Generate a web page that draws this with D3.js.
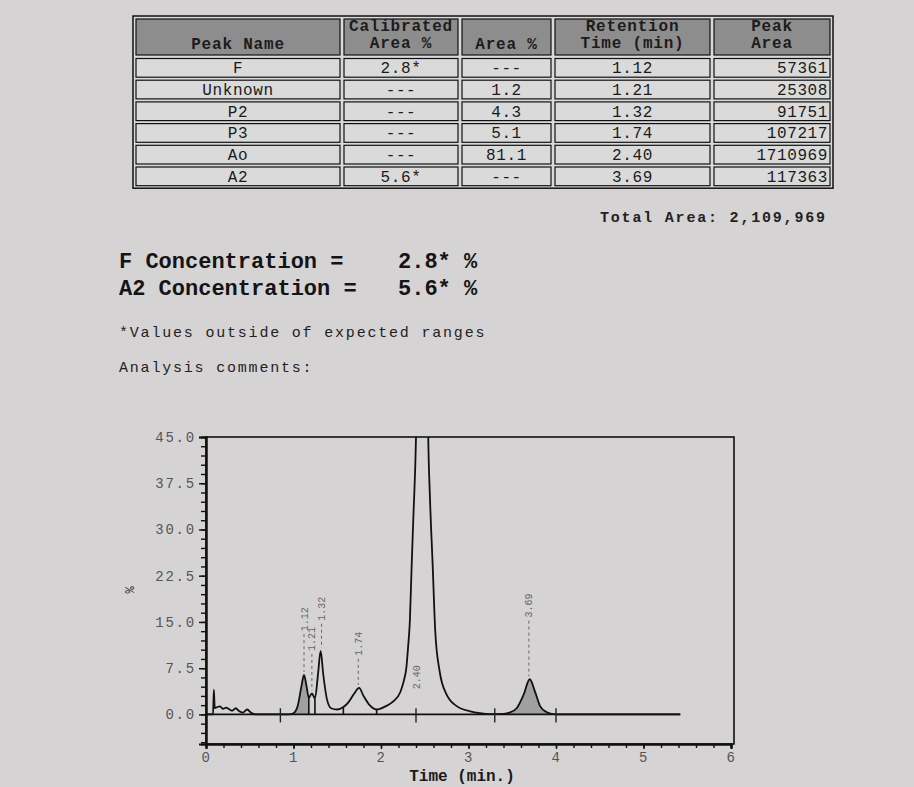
<!DOCTYPE html>
<html>
<head>
<meta charset="utf-8">
<script src="https://cdn.jsdelivr.net/npm/d3@7"></script>
<style>
  body { margin: 0; background: #d6d3d5; }
  svg { display: block; }
  text { font-family: "Liberation Mono", "DejaVu Sans Mono", monospace; }
</style>
</head>
<body>
<div id="report"></div>
<script>
// table values
const headers = [["Peak Name"], ["Calibrated", "Area %"], ["Area %"], ["Retention", "Time (min)"], ["Peak", "Area"]];
const peakNames = ["F", "Unknown", "P2", "P3", "Ao", "A2"];
const calibratedArea = ["2.8*", "---", "---", "---", "---", "5.6*"];
const areaPct = ["---", "1.2", "4.3", "5.1", "81.1", "---"];
const retention = ["1.12", "1.21", "1.32", "1.74", "2.40", "3.69"];
const peakArea = ["57361", "25308", "91751", "107217", "1710969", "117363"];
const totalArea = "2,109,969";

// chromatogram trace
const timeMin = [0.00, 0.08, 0.09, 0.10, 0.13, 0.16, 0.195, 0.23, 0.27, 0.30, 0.34, 0.38, 0.42, 0.47, 0.52, 0.58,
  0.95, 1.00, 1.05, 1.09, 1.12, 1.15, 1.175, 1.21, 1.245, 1.28, 1.31, 1.34, 1.38, 1.43, 1.50, 1.57,
  1.63, 1.69, 1.75, 1.80, 1.87, 1.95, 2.05, 2.14, 2.22, 2.26, 2.29, 2.31, 2.33, 2.35, 2.37, 2.40,
  2.44, 2.47, 2.51, 2.54, 2.56, 2.59, 2.62, 2.67, 2.75, 2.87, 3.02, 3.13, 3.25, 3.40, 3.47, 3.55,
  3.63, 3.70, 3.76, 3.82, 3.89, 3.95, 4.05, 5.42];
const signalPct = [0.0, 0.0, 4.0, 1.0, 1.2, 1.3, 0.9, 1.1, 0.8, 0.6, 1.0, 0.5, 0.3, 0.8, 0.2, 0.0,
  0.0, 0.2, 1.5, 4.5, 6.4, 4.5, 2.7, 3.4, 2.6, 6.5, 10.3, 6.5, 2.6, 1.0, 0.8, 1.2,
  2.0, 3.3, 4.3, 3.0, 1.5, 0.8, 1.3, 2.1, 3.6, 5.4, 7.6, 11.0, 15.2, 24.0, 32.0, 45.0,
  90.0, 105.0, 90.0, 45.0, 35.0, 24.4, 13.5, 7.0, 3.2, 1.3, 0.5, 0.2, 0.05, 0.1, 0.3, 1.0,
  3.2, 5.7, 3.7, 1.3, 0.4, 0.1, 0.0, 0.0];

// peak labels: retention time, apex height, height of label foot
const labelTimes = [1.12, 1.21, 1.32, 1.74, 2.40, 3.69];
const labelApex = [6.4, 3.4, 10.3, 4.3, null, 5.7];
const labelFoot = [13.5, 10.3, 15.2, 9.5, 4.1, 15.7];

// integration marks
const dropTimes = [1.175, 1.245, 1.57, 1.95];
const dropVals = [2.7, 2.6, 1.2, 0.8];
const markerTimes = [0.85, 2.40, 3.30, 4.00];
const shadedRanges = [[1.00, 1.175], [3.47, 3.95]];

const yMajor = [0, 7.5, 15, 22.5, 30, 37.5, 45];
const xMajor = [0, 1, 2, 3, 4, 5, 6];

const W = 914, H = 787;
const svg = d3.select("#report").append("svg")
  .attr("width", W).attr("height", H);

// ---- table ----
const colEdges = [134, 342, 460, 553, 712, 832];
const tableTop = 17, headH = 40, rowH = 21.7;
const table = svg.append("g");

table.append("rect")
  .attr("x", colEdges[0] - 1).attr("y", tableTop - 1)
  .attr("width", colEdges[5] - colEdges[0] + 2)
  .attr("height", headH + rowH * peakNames.length + 2)
  .attr("fill", "#d9d9d9").attr("stroke", "#111").attr("stroke-width", 1.5);

for (let c = 0; c < 5; c++) {
  const x0 = colEdges[c], x1 = colEdges[c + 1];
  table.append("rect")
    .attr("x", x0 + 2).attr("y", tableTop + 2)
    .attr("width", x1 - x0 - 4).attr("height", headH - 4)
    .attr("fill", "#8d8d8d").attr("stroke", "#111").attr("stroke-width", 1.2);
  const lines = headers[c];
  lines.forEach((t, i) => {
    table.append("text")
      .attr("x", (x0 + x1) / 2)
      .attr("y", tableTop + (lines.length === 1 ? 32 : 14 + i * 17))
      .attr("text-anchor", "middle")
      .attr("font-size", 16).attr("font-weight", "bold")
      .attr("letter-spacing", 0.8)
      .attr("fill", "#1c1c1c")
      .text(t);
  });
  for (let r = 0; r < peakNames.length; r++) {
    table.append("rect")
      .attr("x", x0 + 2).attr("y", tableTop + headH + r * rowH + 1.5)
      .attr("width", x1 - x0 - 4).attr("height", rowH - 3)
      .attr("fill", "#dadada").attr("stroke", "#111").attr("stroke-width", 1.2);
  }
}

const cols = [peakNames, calibratedArea, areaPct, retention, peakArea];
cols.forEach((vals, c) => {
  const x0 = colEdges[c], x1 = colEdges[c + 1];
  vals.forEach((v, r) => {
    table.append("text")
      .attr("x", c === 4 ? x1 - 4 : (x0 + x1) / 2)
      .attr("y", tableTop + headH + r * rowH + rowH / 2 + 5.5)
      .attr("text-anchor", c === 4 ? "end" : "middle")
      .attr("font-size", 16).attr("letter-spacing", 0.6).attr("fill", "#1a1a1a")
      .text(v);
  });
});

// ---- summary text ----
const note = { size: 15, spacing: 1.8, fill: "#222" };
svg.append("text").attr("x", 600).attr("y", 222)
  .attr("font-size", note.size).attr("letter-spacing", note.spacing).attr("fill", note.fill)
  .attr("font-weight", "bold")
  .text("Total Area:  " + totalArea);

svg.append("text").attr("x", 119).attr("y", 268)
  .attr("font-size", 22).attr("font-weight", "bold").attr("fill", "#141414")
  .text("F Concentration =");
svg.append("text").attr("x", 398).attr("y", 268)
  .attr("font-size", 22).attr("font-weight", "bold").attr("fill", "#141414")
  .text(calibratedArea[0] + " %");
svg.append("text").attr("x", 119).attr("y", 295)
  .attr("font-size", 22).attr("font-weight", "bold").attr("fill", "#141414")
  .text("A2 Concentration =");
svg.append("text").attr("x", 398).attr("y", 295)
  .attr("font-size", 22).attr("font-weight", "bold").attr("fill", "#141414")
  .text(calibratedArea[5] + " %");

svg.append("text").attr("x", 119).attr("y", 337)
  .attr("font-size", note.size).attr("letter-spacing", note.spacing).attr("fill", note.fill)
  .text("*Values outside of expected ranges");
svg.append("text").attr("x", 119).attr("y", 372)
  .attr("font-size", note.size).attr("letter-spacing", note.spacing).attr("fill", note.fill)
  .text("Analysis comments:");

// ---- chromatogram ----
const x = d3.scaleLinear().domain([0, 6]).range([206, 731]);
const y = d3.scaleLinear().domain([-4.8, 45]).range([744, 437]);
const trace = timeMin.map((t, i) => ({ t: t, v: signalPct[i] }));

svg.append("clipPath").attr("id", "plotClip")
  .append("rect").attr("x", 206).attr("y", 437).attr("width", 528).attr("height", 307);

const plot = svg.append("g").attr("clip-path", "url(#plotClip)");

// shaded integrated peaks
shadedRanges.forEach(rg => {
  plot.append("path")
    .datum(trace.filter(d => d.t >= rg[0] && d.t <= rg[1]))
    .attr("fill", "#8f8f8f").attr("fill-opacity", 0.75)
    .attr("d", d3.area().curve(d3.curveMonotoneX)
      .x(d => x(d.t)).y0(y(0)).y1(d => y(d.v)));
});

// baseline
plot.append("line")
  .attr("x1", x(0)).attr("x2", x(5.42))
  .attr("y1", y(0)).attr("y2", y(0))
  .attr("stroke", "#111").attr("stroke-width", 1.8);

plot.append("path")
  .datum(trace)
  .attr("fill", "none").attr("stroke", "#111").attr("stroke-width", 1.8)
  .attr("d", d3.line().curve(d3.curveMonotoneX).x(d => x(d.t)).y(d => y(d.v)));

dropTimes.forEach((t, i) => {
  plot.append("line")
    .attr("x1", x(t)).attr("x2", x(t))
    .attr("y1", y(0)).attr("y2", y(dropVals[i]))
    .attr("stroke", "#111").attr("stroke-width", 1.6);
});

markerTimes.forEach(t => {
  plot.append("line")
    .attr("x1", x(t)).attr("x2", x(t))
    .attr("y1", y(1.0)).attr("y2", y(-1.3))
    .attr("stroke", "#222").attr("stroke-width", 1.4);
});

labelTimes.forEach((t, i) => {
  plot.append("text")
    .attr("transform", `translate(${x(t)},${y(labelFoot[i])}) rotate(-90)`)
    .attr("dy", "0.35em")
    .attr("font-size", 10).attr("fill", "#666")
    .text(retention[i]);
  if (labelApex[i] !== null) {
    plot.append("line")
      .attr("x1", x(t)).attr("x2", x(t))
      .attr("y1", y(labelFoot[i]) + 3).attr("y2", y(labelApex[i]) - 3)
      .attr("stroke", "#666").attr("stroke-width", 1)
      .attr("stroke-dasharray", "3,3");
  }
});

// frame
svg.append("rect")
  .attr("x", 206).attr("y", 437).attr("width", 528).attr("height", 307)
  .attr("fill", "none").attr("stroke", "#111").attr("stroke-width", 1.6);

// axes
const yAxisMinor = d3.axisLeft(y).tickValues(d3.range(-4.5, 45, 1.5)).tickSize(5).tickFormat("");
const yAxis = d3.axisLeft(y).tickValues(yMajor).tickSize(7).tickPadding(3)
  .tickFormat(d3.format(".1f"));
const xAxisMinor = d3.axisBottom(x).tickValues(d3.range(0, 6.01, 0.2)).tickSize(4).tickFormat("");
const xAxis = d3.axisBottom(x).tickValues(xMajor).tickSize(5).tickPadding(3)
  .tickFormat(d3.format("d"));

function styleAxis(g) {
  g.select(".domain").attr("stroke", "#111").attr("stroke-width", 2);
  g.selectAll(".tick line").attr("stroke", "#111").attr("stroke-width", 1.4);
  g.selectAll(".tick text").attr("font-size", 14).attr("fill", "#555")
    .attr("letter-spacing", 1.8)
    .attr("font-family", "Liberation Mono, monospace");
}

svg.append("g").attr("transform", "translate(206,0)").call(yAxisMinor).call(styleAxis);
svg.append("g").attr("transform", "translate(206,0)").call(yAxis).call(styleAxis);
svg.append("g").attr("transform", "translate(0,744)").call(xAxisMinor).call(styleAxis);
svg.append("g").attr("transform", "translate(0,744)").call(xAxis).call(styleAxis);

svg.append("text")
  .attr("transform", "translate(134,590) rotate(-90)")
  .attr("text-anchor", "middle").attr("font-size", 12).attr("fill", "#222")
  .text("%");

svg.append("text").attr("x", 462).attr("y", 781)
  .attr("text-anchor", "middle").attr("font-size", 16).attr("font-weight", "bold")
  .attr("fill", "#1a1a1a")
  .text("Time (min.)");
</script>
</body>
</html>
